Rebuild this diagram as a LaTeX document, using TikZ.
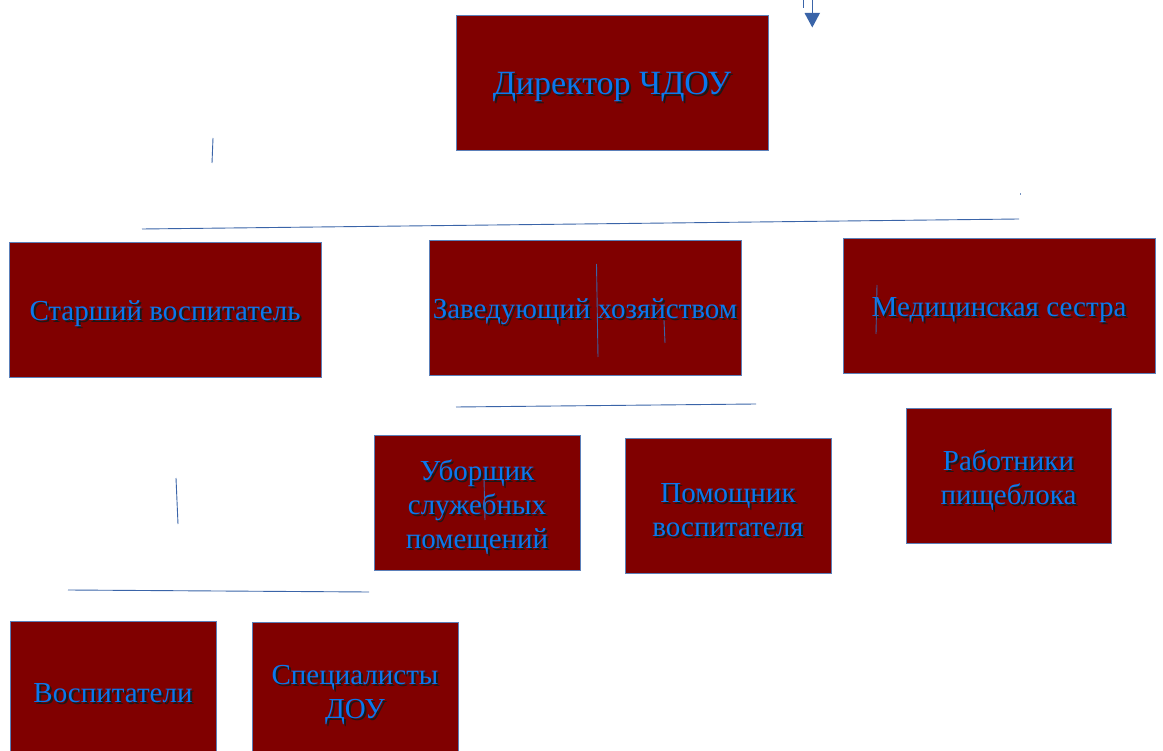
\documentclass[tikz,border=0pt]{standalone}
\usepackage{fontspec}
\setmainfont{Liberation Serif}
\newfontfamily\tnr{Liberation Serif}
\definecolor{boxfill}{HTML}{800000}
\definecolor{boxline}{HTML}{5B7FB8}
\definecolor{txtblue}{HTML}{0A78EE}
\definecolor{linec}{HTML}{3A64A8}
\newcommand\orgbox[6]{%
  \node[box=#4] (#1) at (#2,#3) {};
  \node[shadowtext, font=\tnr#6] at ([shift={(2,6.5)}]#1.center) {#5};
  \node[maintext, font=\tnr#6] at ([shift={(0,4.5)}]#1.center) {#5};
}
\begin{document}
\begin{tikzpicture}[x=1pt,y=-1pt,
  box/.style={draw=boxline, line width=0.8pt, fill=boxfill, inner sep=0pt,
              minimum width=#1, minimum height=135},
  basetext/.style={align=center, inner sep=0pt},
  shadowtext/.style={basetext, text=black!90},
  maintext/.style={basetext, text=txtblue},
  conn/.style={draw=linec, line width=0.9pt}]
\useasboundingbox (0,0) rectangle (1163,751);
\clip (0,0) rectangle (1163,751);
\fill[white] (0,0) rectangle (1163,751);

\orgbox{dir}{612}{82.5}{312}{Директор ЧДОУ}{\fontsize{34}{39}\selectfont}
\orgbox{star}{165}{309.5}{312}{Старший воспитатель}{\fontsize{29}{34}\selectfont}
\orgbox{zav}{585}{307.5}{312}{Заведующий хозяйством}{\fontsize{29}{34}\selectfont}
\orgbox{med}{999}{305.5}{312}{Медицинская сестра}{\fontsize{29}{34}\selectfont}
\orgbox{ubor}{477}{503}{206}{Уборщик\\служебных\\помещений}{\fontsize{29}{34}\selectfont}
\orgbox{pom}{728}{505.5}{206}{Помощник\\воспитателя}{\fontsize{29}{34}\selectfont}
\orgbox{rab}{1008.5}{475.5}{205}{Работники\\пищеблока}{\fontsize{29}{34}\selectfont}
\orgbox{vosp}{113}{689}{206}{Воспитатели}{\fontsize{29}{34}\selectfont}
\orgbox{spec}{355}{690}{206}{Специалисты\\ДОУ}{\fontsize{29}{34}\selectfont}

% arrow at top
\coordinate (a1) at (803,0); \coordinate (a1e) at (803,8);
\coordinate (a2) at (812,0); \coordinate (a2e) at (812,14);
\draw[conn] (a1) -- (a1e);
\draw[conn] (a2) -- (a2e);
\fill[linec] (804.5,13) -- (820,13) -- (812.3,27.5) -- cycle;

% stray line fragments
\draw[conn] (213,138) -- (212,163);
\draw[conn] (142,229) -- (1019,219);
\fill[linec!70] (1019.5,193.5) rectangle (1021,195);
\draw[conn] (596.5,264) -- (598,357);
\draw[conn] (664,320) -- (665,343);
\draw[conn] (456,407) -- (756,404);
\draw[conn] (484,479) -- (485,520);
\draw[conn] (877,285) -- (876,334);
\draw[conn] (176,478) -- (178,524);
\draw[conn] (68,590) -- (369,592);
\end{tikzpicture}
\end{document}
